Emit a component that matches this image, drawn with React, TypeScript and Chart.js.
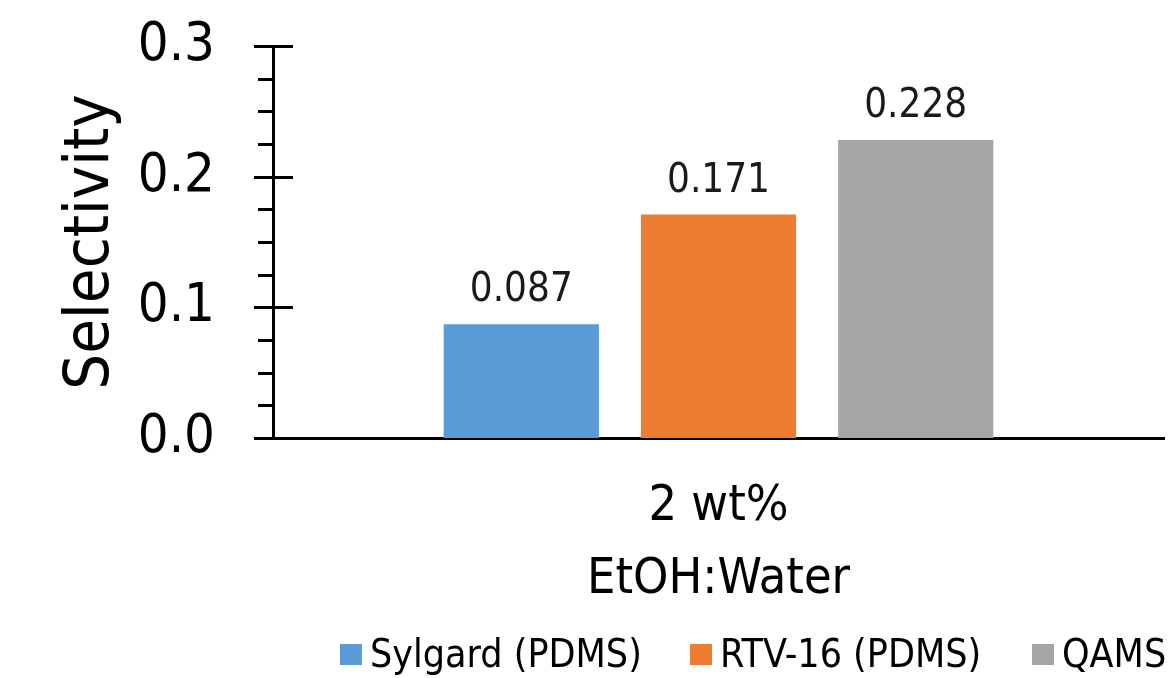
import React, { useEffect, useRef } from "react";
import { Chart, registerables } from "chart.js";

Chart.register(...registerables);

// ---- data ----
const categories: string[][] = [["2 wt%", "EtOH:Water"]];
const seriesNames: string[] = ["Sylgard (PDMS)", "RTV-16 (PDMS)", "QAMS"];
const sylgardValues: number[] = [0.087];
const rtv16Values: number[] = [0.171];
const qamsValues: number[] = [0.228];
const seriesColors: string[] = ["#5B9BD5", "#ED7D31", "#A5A5A5"];
const yMin = 0;
const yMax = 0.3;
const yMajorStep = 0.1;
const yMinorStep = 0.025;
const yTitle = "Selectivity";

const FONT = "'DejaVu Sans Condensed', 'DejaVu Sans', sans-serif";

const isMajor = (v: number) =>
  Math.abs(v / yMajorStep - Math.round(v / yMajorStep)) < 1e-6;

const axisTicksPlugin = {
  id: "axisTicks",
  afterDraw(chart: any) {
    const y = chart.scales.y;
    const ctx = chart.ctx as CanvasRenderingContext2D;
    const x0 = y.right - 1;
    ctx.save();
    ctx.strokeStyle = "#000";
    ctx.lineWidth = 3;
    y.ticks.forEach((t: any) => {
      const py = Math.round(y.getPixelForValue(t.value)) + 0.5;
      const major = isMajor(t.value);
      ctx.beginPath();
      ctx.moveTo(x0 - (major ? 18 : 14), py);
      ctx.lineTo(x0 + (major ? 21 : 0), py);
      ctx.stroke();
    });
    ctx.restore();
  },
};

const dataLabelsPlugin = {
  id: "dataLabels",
  afterDatasetsDraw(chart: any) {
    const ctx = chart.ctx as CanvasRenderingContext2D;
    ctx.save();
    ctx.font = `40px ${FONT}`;
    ctx.fillStyle = "#1a1a1a";
    ctx.textAlign = "center";
    ctx.textBaseline = "alphabetic";
    chart.data.datasets.forEach((ds: any, i: number) => {
      const meta = chart.getDatasetMeta(i);
      meta.data.forEach((el: any, j: number) => {
        const v = ds.data[j] as number;
        ctx.fillText(v.toFixed(3), el.x, el.y - 23);
      });
    });
    ctx.restore();
  },
};

export default function App() {
  const canvasRef = useRef<HTMLCanvasElement | null>(null);

  useEffect(() => {
    if (!canvasRef.current) return;
    const seriesValues = [sylgardValues, rtv16Values, qamsValues];
    const chart = new Chart(canvasRef.current, {
      type: "bar",
      data: {
        labels: categories as any,
        datasets: seriesNames.map((name, i) => ({
          label: name,
          data: seriesValues[i],
          backgroundColor: seriesColors[i],
          borderWidth: 0,
          categoryPercentage: 0.664,
          barPercentage: 0.787,
        })),
      },
      options: {
        animation: false,
        responsive: true,
        maintainAspectRatio: false,
        events: [],
        layout: { padding: { left: 0, top: 46, right: 6, bottom: 0 } },
        plugins: {
          legend: { display: false },
          tooltip: { enabled: false },
          title: { display: false },
        },
        scales: {
          x: {
            type: "category",
            grid: { display: false, drawTicks: false },
            border: { display: true, color: "#000", width: 3 },
            ticks: {
              color: "#000",
              padding: 33,
              font: { family: FONT, size: 50, lineHeight: 73 / 50 },
              maxRotation: 0,
              autoSkip: false,
            },
            afterFit: (scale: any) => {
              scale.height = 678 - 438;
            },
          },
          y: {
            type: "linear",
            min: yMin,
            max: yMax,
            grid: { display: false, drawTicks: true, tickLength: 46 },
            border: { display: true, color: "#000", width: 3 },
            ticks: {
              stepSize: yMinorStep,
              autoSkip: false,
              color: "#000",
              padding: 12,
              font: { family: FONT, size: 54 },
              callback: (v: any) => (isMajor(Number(v)) ? Number(v).toFixed(1) : ""),
            },
            title: {
              display: true,
              text: yTitle,
              color: "#000",
              font: { family: FONT, size: 63, lineHeight: 1 },
              padding: { top: 60, bottom: 0 },
            },
            afterFit: (scale: any) => {
              scale.width = 273;
            },
          },
        },
      },
      plugins: [axisTicksPlugin, dataLabelsPlugin],
    });
    return () => chart.destroy();
  }, []);

  const legendItemWidths = [350, 342, 200];

  return (
    <div
      style={{
        position: "fixed",
        left: 0,
        top: 0,
        width: 1170,
        height: 678,
        overflow: "hidden",
        background: "#fff",
      }}
    >
      <canvas ref={canvasRef} />
      <div
        style={{
          position: "absolute",
          left: 340,
          top: 634,
          height: 40,
          display: "flex",
          whiteSpace: "nowrap",
          fontFamily: FONT,
          fontSize: 39,
          lineHeight: "40px",
          color: "#000",
        }}
      >
        {seriesNames.map((name, i) => (
          <div
            key={name}
            style={{
              display: "flex",
              alignItems: "center",
              width: legendItemWidths[i],
              flex: "0 0 auto",
            }}
          >
            <span
              style={{
                display: "inline-block",
                width: 22,
                height: 21,
                background: seriesColors[i],
                marginRight: 8,
              }}
            />
            <span>{name}</span>
          </div>
        ))}
      </div>
    </div>
  );
}
